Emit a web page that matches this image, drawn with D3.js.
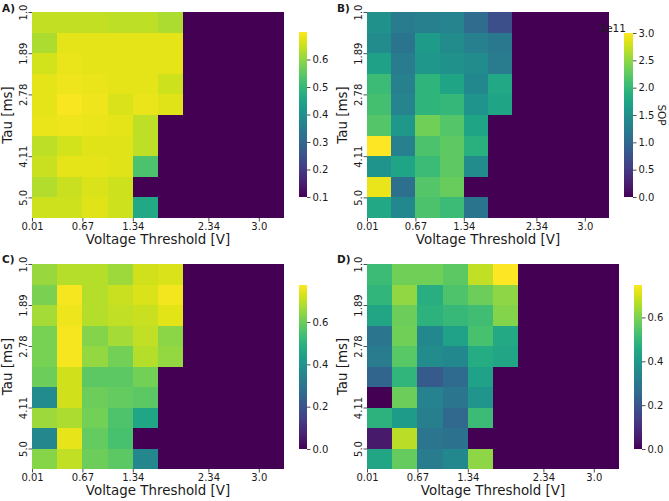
<!DOCTYPE html>
<html><head><meta charset="utf-8">
<script src="https://cdn.jsdelivr.net/npm/d3@7"></script>
<style>
html,body{margin:0;padding:0;background:#fff;}
svg text{font-family:"DejaVu Sans",sans-serif;fill:#1a1a1a;}
</style></head>
<body><svg id="c" width="669" height="501"></svg>
<script>
// ---- data ----
const voltages = [0.01, 0.34, 0.67, 1.01, 1.34, 1.67, 2.0, 2.34, 2.67, 3.0];
const taus = [1.0, 1.44, 1.89, 2.33, 2.78, 3.22, 3.67, 4.11, 4.56, 5.0];
const xTickIdx = [0, 2, 4, 7, 9];
const xTickLabels = ["0.01", "0.67", "1.34", "2.34", "3.0"];
const yTickIdx = [0, 2, 4, 7, 9];
const yTickLabels = ["1.0", "1.89", "2.78", "4.11", "5.0"];

const valuesA = [
  [0.645,0.645,0.645,0.64,0.64,0.625,0.1,0.1,0.1,0.1],
  [0.625,0.675,0.675,0.675,0.675,0.675,0.1,0.1,0.1,0.1],
  [0.66,0.68,0.675,0.675,0.675,0.675,0.1,0.1,0.1,0.1],
  [0.675,0.685,0.68,0.675,0.675,0.655,0.1,0.1,0.1,0.1],
  [0.675,0.695,0.685,0.665,0.68,0.67,0.1,0.1,0.1,0.1],
  [0.68,0.685,0.68,0.675,0.64,0.1,0.1,0.1,0.1,0.1],
  [0.64,0.66,0.67,0.67,0.64,0.1,0.1,0.1,0.1,0.1],
  [0.65,0.675,0.675,0.67,0.53,0.1,0.1,0.1,0.1,0.1],
  [0.63,0.65,0.665,0.655,0.1,0.1,0.1,0.1,0.1,0.1],
  [0.655,0.655,0.67,0.655,0.46,0.1,0.1,0.1,0.1,0.1]
];
// SOP, in units of 1e11
const valuesB = [
  [1.5,1.25,1.3,1.35,1.05,0.72,0,0,0,0],
  [1.45,1.15,1.65,1.45,1.3,1.2,0,0,0,0],
  [1.7,1.25,1.6,1.5,1.45,1.25,0,0,0,0],
  [2.05,1.3,1.95,1.75,1.4,1.8,0,0,0,0],
  [2.1,1.35,1.95,2.0,1.55,1.75,0,0,0,0],
  [2.2,1.6,2.35,2.2,1.75,0,0,0,0,0],
  [3.0,1.3,2.15,2.25,1.9,0,0,0,0,0],
  [1.55,1.75,2.05,2.25,1.45,0,0,0,0,0],
  [2.9,1.1,2.2,2.3,0,0,0,0,0,0],
  [1.8,1.4,2.15,2.05,1.15,0,0,0,0,0]
];
const valuesC = [
  [0.655,0.69,0.69,0.66,0.72,0.73,0,0,0,0],
  [0.62,0.765,0.69,0.71,0.73,0.76,0,0,0,0],
  [0.67,0.755,0.69,0.70,0.71,0.74,0,0,0,0],
  [0.615,0.765,0.63,0.67,0.70,0.64,0,0,0,0],
  [0.615,0.765,0.65,0.61,0.69,0.65,0,0,0,0],
  [0.60,0.72,0.58,0.58,0.61,0,0,0,0,0],
  [0.37,0.72,0.60,0.59,0.58,0,0,0,0,0],
  [0.66,0.68,0.61,0.56,0.46,0,0,0,0,0],
  [0.36,0.745,0.59,0.55,0,0,0,0,0,0],
  [0.635,0.70,0.60,0.58,0.36,0,0,0,0,0]
];
const valuesD = [
  [0.51,0.585,0.585,0.56,0.675,0.75,0,0,0,0],
  [0.49,0.625,0.47,0.54,0.58,0.62,0,0,0,0],
  [0.44,0.58,0.48,0.50,0.52,0.61,0,0,0,0],
  [0.29,0.585,0.35,0.43,0.53,0.45,0,0,0,0],
  [0.31,0.555,0.36,0.35,0.46,0.44,0,0,0,0],
  [0.24,0.49,0.21,0.26,0.43,0,0,0,0,0],
  [0,0.58,0.33,0.29,0.39,0,0,0,0,0],
  [0.48,0.41,0.32,0.25,0.51,0,0,0,0,0],
  [0.05,0.67,0.29,0.28,0,0,0,0,0,0],
  [0.44,0.57,0.31,0.35,0.62,0,0,0,0,0]
];
const cbarTicksA = [0.1,0.2,0.3,0.4,0.5,0.6];
const cbarTicksB = [0,0.5,1.0,1.5,2.0,2.5,3.0];
const cbarTicksCD = [0,0.2,0.4,0.6];

// ---- layout ----
const panels = [
  {label:"A)", lx:2, ly:12, values:valuesA, dom:[0.1,0.70], ticks:cbarTicksA,
   x0:32, x1:284, y0:12, y1:218, cx:299, cw:8, cy0:32, cy1:197},
  {label:"B)", lx:337, ly:12, values:valuesB, dom:[0,3.0], ticks:cbarTicksB,
   x0:367, x1:609, y0:12, y1:218, cx:624, cw:9, cy0:33, cy1:197, sop:true},
  {label:"C)", lx:2, ly:263, values:valuesC, dom:[0,0.775], ticks:cbarTicksCD,
   x0:32, x1:284, y0:264, y1:469, cx:299, cw:8, cy0:285, cy1:449},
  {label:"D)", lx:337, ly:263, values:valuesD, dom:[0,0.748], ticks:cbarTicksCD,
   x0:367, x1:619, y0:264, y1:469, cx:634, cw:8, cy0:285, cy1:449}
];

const svg = d3.select("#c");
const defs = svg.append("defs");
const tickFont = 10, labelFont = 13.4;

panels.forEach((p, pi) => {
  const g = svg.append("g");
  const color = d3.scaleSequential(d3.interpolateViridis).domain(p.dom);
  const xb = d3.scaleBand().domain(d3.range(voltages.length)).range([p.x0, p.x1]);
  const yb = d3.scaleBand().domain(d3.range(taus.length)).range([p.y0, p.y1]);
  const xl = d3.scaleLinear().domain([0, voltages.length]).range([p.x0, p.x1]);
  const yl = d3.scaleLinear().domain([0, taus.length]).range([p.y0, p.y1]);

  const cells = [];
  p.values.forEach((row, r) => row.forEach((v, c) => cells.push({r, c, v})));
  g.append("g").attr("shape-rendering", "crispEdges")
    .selectAll("rect").data(cells).join("rect")
    .attr("x", d => xb(d.c)).attr("y", d => yb(d.r))
    .attr("width", d => (d.c === voltages.length - 1 ? xb.bandwidth() : xb.bandwidth() + 1))
    .attr("height", d => (d.r === taus.length - 1 ? yb.bandwidth() : yb.bandwidth() + 1))
    .attr("fill", d => color(d.v));

  // x axis
  const xa = g.append("g").attr("transform", `translate(0,${p.y1})`)
    .call(d3.axisBottom(xl).tickValues(xTickIdx).tickFormat((d, i) => xTickLabels[i]).tickSize(3.5).tickPadding(1.5));
  xa.select(".domain").remove();
  xa.selectAll("line").attr("stroke", "#222").attr("stroke-width", 0.8);
  xa.selectAll("text").attr("font-size", tickFont).attr("fill", "#1a1a1a");

  // y axis with rotated labels
  const ya = g.append("g").attr("transform", `translate(${p.x0},0)`)
    .call(d3.axisLeft(yl).tickValues(yTickIdx).tickFormat((d, i) => yTickLabels[i]).tickSize(3.5));
  ya.select(".domain").remove();
  ya.selectAll("line").attr("stroke", "#222").attr("stroke-width", 0.8);
  ya.selectAll("text").attr("font-size", tickFont).attr("fill", "#1a1a1a")
    .attr("x", null).attr("dy", null)
    .attr("text-anchor", "middle")
    .attr("transform", "translate(-5.3,0) rotate(-90)");

  // axis labels
  g.append("text").attr("x", (p.x0 + p.x1) / 2).attr("y", p.y1 + 26)
    .attr("text-anchor", "middle").attr("font-size", labelFont).text("Voltage Threshold [V]");
  g.append("text").attr("transform", `translate(${p.x0 - 20},${(p.y0 + p.y1) / 2}) rotate(-90)`)
    .attr("text-anchor", "middle").attr("font-size", labelFont).text("Tau [ms]");

  // panel label
  g.append("text").attr("x", p.lx).attr("y", p.ly).attr("font-size", 10.5)
    .attr("font-weight", "bold").text(p.label);

  // colorbar
  const gid = "grad" + pi;
  const grad = defs.append("linearGradient").attr("id", gid)
    .attr("x1", 0).attr("y1", 1).attr("x2", 0).attr("y2", 0);
  d3.range(0, 1.0001, 0.02).forEach(t => grad.append("stop")
    .attr("offset", t).attr("stop-color", d3.interpolateViridis(t)));
  g.append("rect").attr("x", p.cx).attr("y", p.cy0).attr("width", p.cw)
    .attr("height", p.cy1 - p.cy0).attr("fill", `url(#${gid})`);
  const cs = d3.scaleLinear().domain(p.dom).range([p.cy1, p.cy0]);
  const ca = g.append("g").attr("transform", `translate(${p.cx + p.cw},0)`)
    .call(d3.axisRight(cs).tickValues(p.ticks).tickFormat(d3.format(".1f")).tickSize(3.5).tickPadding(2));
  ca.select(".domain").remove();
  ca.selectAll("line").attr("stroke", "#222").attr("stroke-width", 0.8);
  ca.selectAll("text").attr("font-size", tickFont).attr("fill", "#1a1a1a");

  if (p.sop) {
    g.append("text").attr("x", p.cx + 2).attr("y", p.cy0 - 1)
      .attr("text-anchor", "end").attr("font-size", 10.5).text("1e11");
    g.append("text").attr("transform", `translate(${658},${(p.cy0 + p.cy1) / 2}) rotate(90)`)
      .attr("text-anchor", "middle").attr("font-size", 10.5).text("SOP");
  }
});
</script></body></html>
